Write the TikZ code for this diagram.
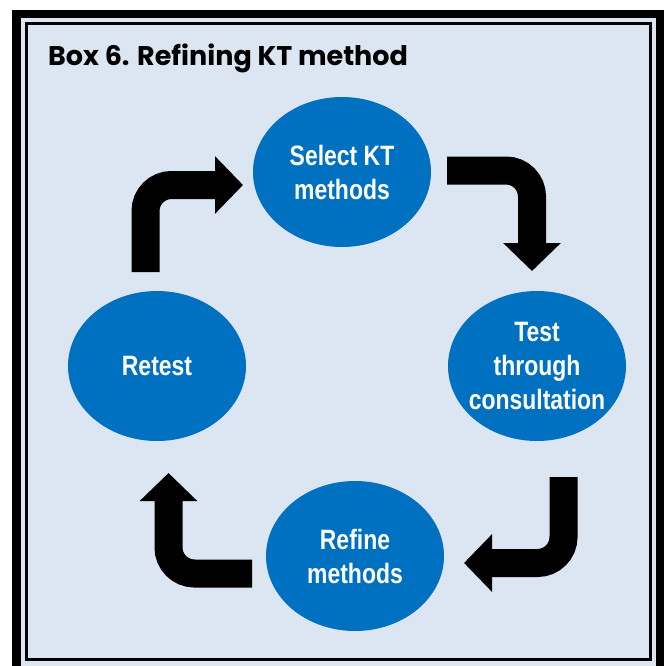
\documentclass[tikz,border=0pt]{standalone}
\usepackage{fontspec}
\usetikzlibrary{shapes.geometric,arrows.meta}
\newfontfamily\titlefont{Poppins}
\newfontfamily\narrowfont[FakeStretch=0.82]{Liberation Sans}
\definecolor{boxfill}{HTML}{DCE6F2}
\definecolor{stepblue}{HTML}{0070C0}
\tikzset{
  blob/.style={ellipse, fill=stepblue, text=white, minimum width=178pt, minimum height=150pt,
    inner sep=-20pt, align=center, font=\narrowfont\bfseries\fontsize{28}{34}\selectfont},
  turn/.style={line width=28pt, rounded corners=26pt, -{Triangle[width=56pt,length=28pt]}}
}
\begin{document}
\begin{tikzpicture}[x=1pt,y=-1pt]
\useasboundingbox (0,0) rectangle (666,666);
\clip (0,0) rectangle (666,666);
%\draw[help lines, color=gray!30] (0,0) grid[step=50] (666,666);
\fill[boxfill] (12,10) rectangle (664,680);
\draw[line width=8.5pt] (16.25,14) rectangle (660,672);
\draw[line width=3pt] (26.5,24) rectangle (650.7,659);
\node[anchor=base west, inner sep=0pt, font=\titlefont\bfseries\fontsize{27}{32}\selectfont] (title) at (48,66) {Box 6. Refining KT method};
\node[blob] (select) at (342,172) {Select KT\\methods};
\node[blob] (test) at (537,366) {Test\\through\\consultation};
\node[blob] (refine) at (355,556) {Refine\\methods};
\node[blob] (retest) at (157,366) {Retest};
\coordinate (a1s) at (447,170.5);
\coordinate (a1e) at (532,271);
\coordinate (a2s) at (563.5,477);
\coordinate (a2e) at (464,563);
\coordinate (a3s) at (252,573.5);
\coordinate (a3e) at (168.5,473);
\coordinate (a4s) at (145.5,272);
\coordinate (a4e) at (243,185);
\draw[turn] (a1s) -| (a1e);
\draw[turn] (a2s) |- (a2e);
\draw[turn] (a3s) -| (a3e);
\draw[turn] (a4s) |- (a4e);
\end{tikzpicture}
\end{document}
